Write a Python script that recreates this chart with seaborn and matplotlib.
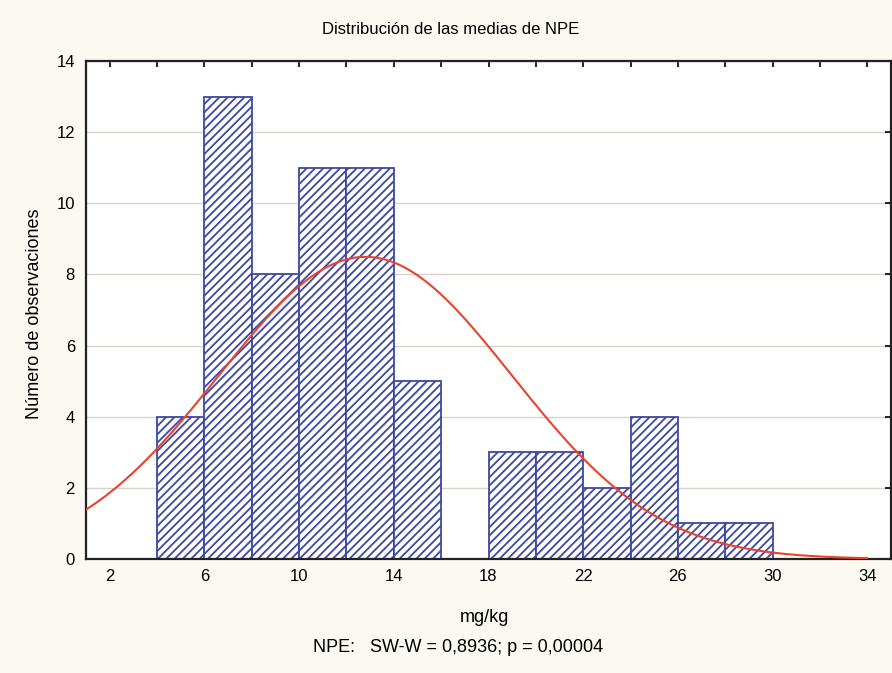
import numpy as np
import pandas as pd
import matplotlib
matplotlib.use("Agg")
import matplotlib.pyplot as plt
import seaborn as sns

# histogram of NPE means (mg/kg), bins of width 2
bin_edges = [4, 6, 8, 10, 12, 14, 16, 18, 20, 22, 24, 26, 28, 30]
counts = [4, 13, 8, 11, 11, 5, 0, 3, 3, 2, 4, 1, 1]

# fitted normal curve parameters
norm_mean = 12.8
norm_sd = 6.2
n_obs = sum(counts)
bin_width = 2

x_ticks = [2, 6, 10, 14, 18, 22, 26, 30, 34]
y_ticks = [0, 2, 4, 6, 8, 10, 12, 14]

title = "Distribución de las medias de NPE"
x_label = "mg/kg"
y_label = "Número de observaciones"
foot = "NPE:   SW-W = 0,8936; p = 0,00004"

sns.set_style("white")
plt.rcParams["font.family"] = ["Liberation Sans", "DejaVu Sans"]
plt.rcParams["hatch.linewidth"] = 1.3
plt.rcParams["text.color"] = "black"

bg = "#fbf9f2"
blue = "#3d48a4"
red = "#e8432b"

fig = plt.figure(figsize=(8.92, 6.73), dpi=100, facecolor=bg)
ax = fig.add_axes([86 / 892, 1 - 559 / 673, (891 - 86) / 892, (559 - 61) / 673])
ax.set_facecolor("white")

centers = [(a + b) / 2 for a, b in zip(bin_edges[:-1], bin_edges[1:])]
df = pd.DataFrame({"x": centers, "n": counts})
sns.histplot(data=df, x="x", weights="n", bins=bin_edges, ax=ax,
             facecolor="white", edgecolor=blue, linewidth=1.3,
             hatch="////", alpha=1.0, zorder=2)

xs = np.linspace(1, 34, 400)
ys = n_obs * bin_width / (norm_sd * np.sqrt(2 * np.pi)) * np.exp(-0.5 * ((xs - norm_mean) / norm_sd) ** 2)
sns.lineplot(x=xs, y=ys, ax=ax, color=red, linewidth=1.5, zorder=3)

ax.set_xlim(1, 35)
ax.set_ylim(0, 14)
ax.set_xticks(x_ticks)
ax.set_xticks(np.arange(2, 35, 2), minor=True)
ax.set_yticks(y_ticks)
ax.yaxis.grid(True, color="#d9d2ca", linewidth=1.0, zorder=0)
ax.set_axisbelow(True)
ax.tick_params(axis="both", which="both", direction="in", top=True, right=True,
               length=4, width=1.2, labelsize=12, colors="black")
ax.tick_params(axis="x", pad=7)
ax.tick_params(axis="y", pad=8)
for s in ax.spines.values():
    s.set_color("#222222")
    s.set_linewidth(1.6)

ax.set_xlabel("")
ax.set_ylabel("")
fig.text(451 / 892, 1 - 30 / 673, title, ha="center", va="center", fontsize=12)
fig.text(484 / 892, 1 - 617 / 673, x_label, ha="center", va="center", fontsize=13)
fig.text(458 / 892, 1 - 648 / 673, foot, ha="center", va="center", fontsize=13)
fig.text(35 / 892, 1 - 314 / 673, y_label, ha="center", va="center", rotation=90, fontsize=13)

fig.savefig("out.png", dpi=100, facecolor=bg)
